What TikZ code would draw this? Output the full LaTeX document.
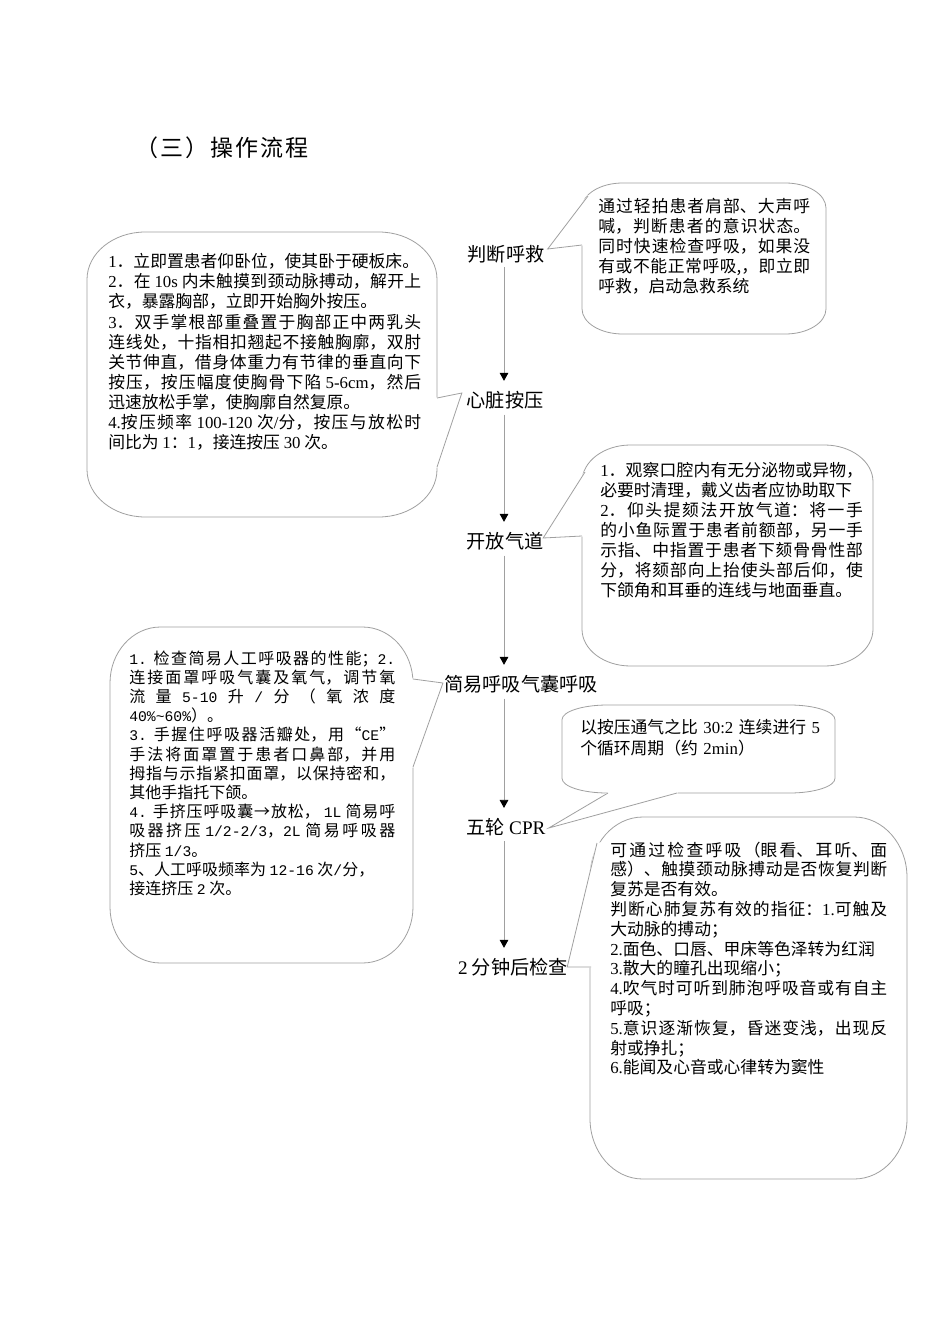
\documentclass[tikz,border=0pt]{standalone}
\usepackage{fontspec}
\setmainfont{Noto Sans CJK SC}
\newfontfamily\latf{Liberation Serif}
\newfontfamily\monof[Scale=0.92]{Liberation Mono}
\newfontfamily\titlef[LetterSpace=9]{Noto Sans CJK SC}
\usetikzlibrary{arrows.meta,calc}
\definecolor{lg}{RGB}{160,160,160}
\newcommand\ltn[1]{{\latf #1}}
\newcommand\mtn[1]{{\monof #1}}
\XeTeXlinebreaklocale "zh"
\XeTeXlinebreakskip=0pt plus 3pt minus 0.4pt
\tolerance=9999
\hbadness=10000
% rounded rectangle with elliptical corners (rx = w/6, ry = h/6)
\newcommand\callbox[4]{%
 \pgfmathsetmacro\crx{(#3-#1)/6}%
 \pgfmathsetmacro\cry{(#4-#2)/6}%
 \pgfmathsetmacro\ccx{\crx*0.4477}%
 \pgfmathsetmacro\ccy{\cry*0.4477}%
 \draw[cbox] (#1,#2+\cry) .. controls (#1,#2+\ccy) and (#1+\ccx,#2) .. (#1+\crx,#2)
   -- (#3-\crx,#2) .. controls (#3-\ccx,#2) and (#3,#2+\ccy) .. (#3,#2+\cry)
   -- (#3,#4-\cry) .. controls (#3,#4-\ccy) and (#3-\ccx,#4) .. (#3-\crx,#4)
   -- (#1+\crx,#4) .. controls (#1+\ccx,#4) and (#1,#4-\ccy) .. (#1,#4-\cry) -- cycle;}
% wedge: tip, base A, base B, inward offset dx, dy
\newcommand\callwedge[5]{%
 \filldraw[white,line width=1.1pt] (#1) -- (#2) -- ($(#2)+(#4,#5)$) -- ($(#3)+(#4,#5)$) -- (#3) -- cycle;
 \draw[cline] (#2) -- (#1) -- (#3);}
\begin{document}
\begin{tikzpicture}[x=0.75pt,y=-0.75pt,
  cbox/.style={draw=lg,fill=white,line width=0.6pt},
  cline/.style={draw=lg,line width=0.6pt,line join=miter},
  flowlbl/.style={inner sep=0pt,font=\fontsize{14.4}{17}\selectfont},
  ctext/.style={anchor=base west,inner sep=0pt,align=justify,font=\fontsize{12.6}{15}\selectfont},
  flowline/.style={draw=lg,line width=0.6pt,-{Triangle[width=6.5pt,length=6pt,black]}}]
\useasboundingbox (0,0) rectangle (950,1344);
\fill[white] (0,0) rectangle (950,1344);

% title
\node[anchor=west,inner sep=0pt,font=\titlef\fontsize{17.25}{20}\selectfont] (title) at (135,148) {（三）操作流程};

% flow labels
\node[flowlbl] (jd) at (506,254) {判断呼救};
\node[flowlbl] (xz) at (505,400) {心脏按压};
\node[flowlbl] (kf) at (505,541) {开放气道};
\node[flowlbl] (jy) at (521,684) {简易呼吸气囊呼吸};
\node[flowlbl] (wl) at (506,827) {五轮 \ltn{CPR}};
\node[flowlbl] (jc) at (513,967) {\ltn{2} 分钟后检查};

% flow connectors
\coordinate (col) at (504,0);
\draw[flowline] ([yshift=-3pt]col |- jd.south) -- ([yshift=7.5pt]col |- xz.north);
\draw[flowline] ([yshift=-4pt]col |- xz.south) -- ([yshift=7.5pt]col |- kf.north);
\draw[flowline] ([yshift=-4pt]col |- kf.south) -- ([yshift=7.5pt]col |- jy.north);
\draw[flowline] ([yshift=-4pt]col |- jy.south) -- ([yshift=7.5pt]col |- wl.north);
\draw[flowline] ([yshift=-4pt]col |- wl.south) -- ([yshift=7.5pt]col |- jc.north);

% callout tips
\coordinate (t1) at ($(jd.east)+(3,-5)$);
\coordinate (t2) at ($(xz.west)+(-4.5,-7)$);
\coordinate (t3) at ($(kf.east)+(-0.5,-3)$);
\coordinate (t4) at ($(jy.west)+(-1,-1)$);
\coordinate (t5) at ($(wl.east)+(3,1)$);
\coordinate (t6) at ($(jc.east)+(-1,0)$);

% callout 1
\callbox{582}{183}{826}{334}
\coordinate (a1) at (582,245); \coordinate (b1) at (588,196);
\callwedge{t1}{a1}{b1}{3}{0}
\node[ctext,text width=159pt] (c1) at (598,213) {%
通过轻拍患者肩部、大声呼\linebreak
喊，判断患者的意识状态。\linebreak
同时快速检查呼吸，如果没\linebreak
有或不能正常呼吸,，即立即\linebreak
呼救，启动急救系统};

% callout 2
\callbox{87}{232}{437}{517}
\coordinate (a2) at (437,398); \coordinate (b2) at (437,467);
\callwedge{t2}{a2}{b2}{-3}{0}
\node[ctext,text width=234.75pt] (c2) at (108,268) {%
\ltn{1}．立即置患者仰卧位，使其卧于硬板床。\par
\ltn{2}．在 \ltn{10s} 内未触摸到颈动脉搏动，解开上\linebreak
衣，暴露胸部，立即开始胸外按压。\par
\ltn{3}．双手掌根部重叠置于胸部正中两乳头\linebreak
连线处，十指相扣翘起不接触胸廓，双肘\linebreak
关节伸直，借身体重力有节律的垂直向下\linebreak
按压，按压幅度使胸骨下陷 \ltn{5-6cm}，然后\linebreak
迅速放松手掌，使胸廓自然复原。\par
\ltn{4.}按压频率 \ltn{100-120} 次\ltn{/}分，按压与放松时\linebreak
间比为 \ltn{1}：\ltn{1}，接连按压 \ltn{30} 次。};

% callout 3
\callbox{582}{445}{873}{666}
\coordinate (a3) at (582,536); \coordinate (b3) at (585,472);
\callwedge{t3}{a3}{b3}{3}{0}
\node[ctext,text width=197pt] (c3) at (600,476) {%
\ltn{1}．观察口腔内有无分泌物或异物，\linebreak
必要时清理，戴义齿者应协助取下\par
\ltn{2}．仰头提颏法开放气道：将一手\linebreak
的小鱼际置于患者前额部，另一手\linebreak
示指、中指置于患者下颏骨骨性部\linebreak
分，将颏部向上抬使头部后仰，使\linebreak
下颌角和耳垂的连线与地面垂直。};

% callout 4
\callbox{110}{627}{413}{963}
\coordinate (a4) at (413,679); \coordinate (b4) at (413,767);
\callwedge{t4}{a4}{b4}{-3}{0}
\node[ctext,text width=199.5pt,font=\fontsize{12}{14.4}\selectfont] (c4) at (129,664) {%
\mtn{1.} 检查简易人工呼吸器的性能；\mtn{2.}\linebreak
连接面罩呼吸气囊及氧气，调节氧\linebreak
流 量 \mtn{5-10} 升 \mtn{/} 分 （ 氧 浓 度\linebreak
\mtn{40\%\textasciitilde 60\%}）。\par
\mtn{3.} 手握住呼吸器活瓣处，用“\mtn{CE}”\linebreak
手法将面罩置于患者口鼻部，并用\linebreak
拇指与示指紧扣面罩，以保持密和，\linebreak
其他手指托下颌。\par
\mtn{4.} 手挤压呼吸囊→放松， \mtn{1L} 简易呼\linebreak
吸器挤压 \mtn{1/2-2/3}，\mtn{2L} 简易呼吸器\linebreak
挤压 \mtn{1/3}。\par
\mtn{5}、人工呼吸频率为 \mtn{12-16} 次\mtn{/}分，\par
接连挤压 \mtn{2} 次。};

% callout 5
\callbox{562}{705}{835}{793}
\coordinate (a5) at (608,793); \coordinate (b5) at (677,793);
\callwedge{t5}{a5}{b5}{0}{-3}
\node[ctext,text width=190pt,align=left,font=\fontsize{12.6}{15.75}\selectfont] (c5) at (580,733) {%
以按压通气之比 \ltn{30:2} 连续进行 \ltn{5}\\
个循环周期（约 \ltn{2min}）};

% callout 6
\callbox{590}{817}{907}{1179}
\coordinate (a6) at (591,967); \coordinate (b6) at (597,843);
\callwedge{t6}{a6}{b6}{3}{0}
\node[ctext,text width=207.75pt,font=\fontsize{12.6}{14.85}\selectfont] (c6) at (610,856) {%
可通过检查呼吸（眼看、耳听、面\linebreak
感）、触摸颈动脉搏动是否恢复判断\linebreak
复苏是否有效。\par
判断心肺复苏有效的指征：\ltn{1.}可触及\linebreak
大动脉的搏动；\par
\ltn{2.}面色、口唇、甲床等色泽转为红润\par
\ltn{3.}散大的瞳孔出现缩小；\par
\ltn{4.}吹气时可听到肺泡呼吸音或有自主\linebreak
呼吸；\par
\ltn{5.}意识逐渐恢复，昏迷变浅，出现反\linebreak
射或挣扎；\par
\ltn{6.}能闻及心音或心律转为窦性};
\end{tikzpicture}
\end{document}
